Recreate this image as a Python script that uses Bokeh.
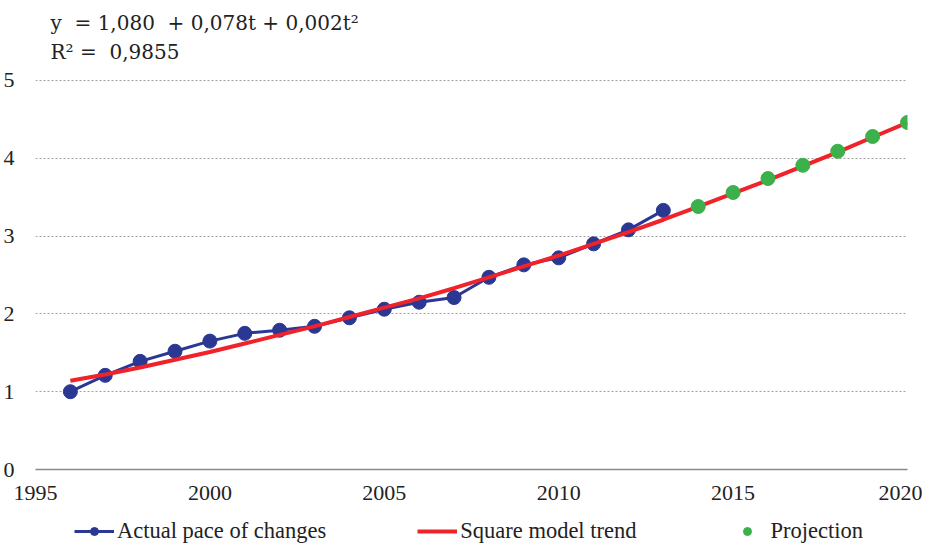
from bokeh.plotting import figure
from bokeh.layouts import column
from bokeh.models import Range1d, FixedTicker, Legend, LegendItem, Label
from bokeh.embed import file_html
from bokeh.resources import INLINE

# Data
actual_years = list(range(1996, 2014))
actual_values = [1.00, 1.21, 1.39, 1.52, 1.65, 1.75, 1.79, 1.84, 1.95, 2.06,
                 2.15, 2.21, 2.47, 2.63, 2.72, 2.90, 3.08, 3.33]
trend_years = list(range(1996, 2021))
trend_values = [1.14, 1.22, 1.31, 1.41, 1.51, 1.62, 1.73, 1.84, 1.96, 2.08,
                2.20, 2.33, 2.47, 2.61, 2.75, 2.90, 3.05, 3.21, 3.38, 3.55,
                3.72, 3.90, 4.08, 4.27, 4.46]
proj_years = list(range(2014, 2021))
proj_values = [3.38, 3.56, 3.74, 3.91, 4.09, 4.28, 4.46]
x_ticks = [1995, 2000, 2005, 2010, 2015, 2020]
y_ticks = [0, 1, 2, 3, 4, 5]
series_names = ["Actual pace of changes", "Square model trend", "Projection"]
NB = "\u00a0"
eq_line1 = f"y {NB}= 1,080 {NB}+ 0,078t + 0,002t²"
eq_line2 = f"R² = {NB}0,9855"

FONT = "Liberation Serif"
EQ_FONT = "DejaVu Serif"
blue = "#2b3893"
red = "#f0222a"
green = "#3cb04a"

p = figure(frame_width=872, frame_height=461, output_backend="svg", toolbar_location=None,
           x_range=Range1d(1995, 2020), y_range=Range1d(0, 5.925),
           min_border_left=27, min_border_right=15, min_border_top=8,
           min_border_bottom=0)
p.outline_line_color = None
p.background_fill_color = "white"

# axes
p.xaxis.ticker = FixedTicker(ticks=x_ticks)
p.yaxis.ticker = FixedTicker(ticks=y_ticks)
p.xaxis.axis_line_color = "#8a8a8a"
p.xaxis.axis_line_width = 1.5
p.xaxis.major_tick_line_color = None
p.xaxis.minor_tick_line_color = None
p.xaxis.major_tick_out = 0
p.xaxis.major_label_standoff = 16
p.yaxis.axis_line_color = None
p.yaxis.major_tick_line_color = None
p.yaxis.minor_tick_line_color = None
p.yaxis.major_tick_out = 0
p.yaxis.major_label_standoff = 21
for ax in (p.xaxis, p.yaxis):
    ax.major_label_text_font = FONT
    ax.major_label_text_font_size = "22px"
    ax.major_label_text_color = "#222222"

p.xgrid.grid_line_color = None
p.ygrid.ticker = FixedTicker(ticks=[1, 2, 3, 4, 5])
p.ygrid.grid_line_color = "#a0a0a0"
p.ygrid.grid_line_dash = "2 2"
p.ygrid.grid_line_width = 1

p.line(actual_years, actual_values, line_color=blue, line_width=3)
p.scatter(actual_years, actual_values, size=14, fill_color=blue, line_color=blue)
p.line(trend_years, trend_values, line_color=red, line_width=4)
p.scatter(proj_years, proj_values, size=14, fill_color=green, line_color=green)

p.add_layout(Label(x=1995.43, y=5.745, text=eq_line1, text_font=EQ_FONT,
                   text_font_size="20px", text_baseline="middle", text_color="#222222"))
p.add_layout(Label(x=1995.43, y=5.36, text=eq_line2, text_font=EQ_FONT,
                   text_font_size="20px", text_baseline="middle", text_color="#222222"))

# legend strip (series drawn off-screen; only their legend glyphs show)
lg = figure(width=914, height=42, output_backend="svg", toolbar_location=None,
            min_border=0, x_range=Range1d(0, 1), y_range=Range1d(0, 1))
lg.axis.visible = False
lg.grid.visible = False
lg.outline_line_color = None
g1 = lg.line(actual_years, actual_values, line_color=blue, line_width=3)
g2 = lg.scatter(actual_years, actual_values, size=11, fill_color=blue, line_color=blue)
g3 = lg.line(trend_years, trend_values, line_color=red, line_width=4)
g4 = lg.scatter(proj_years, proj_values, size=11, fill_color=green, line_color=green)
legend = Legend(items=[
    LegendItem(label=series_names[0], renderers=[g1, g2]),
    LegendItem(label=series_names[1], renderers=[g3]),
    LegendItem(label=series_names[2], renderers=[g4]),
], orientation="horizontal", location=(39, 0), spacing=91,
    glyph_width=40, glyph_height=20, label_height=20, label_standoff=3,
    border_line_color=None, background_fill_alpha=0,
    label_text_font=FONT, label_text_font_size="22.5px", label_text_color="#222222",
    padding=0, margin=0)
lg.add_layout(legend)

layout = column(p, lg, spacing=0)
open("out.html", "w").write(file_html(layout, INLINE))
